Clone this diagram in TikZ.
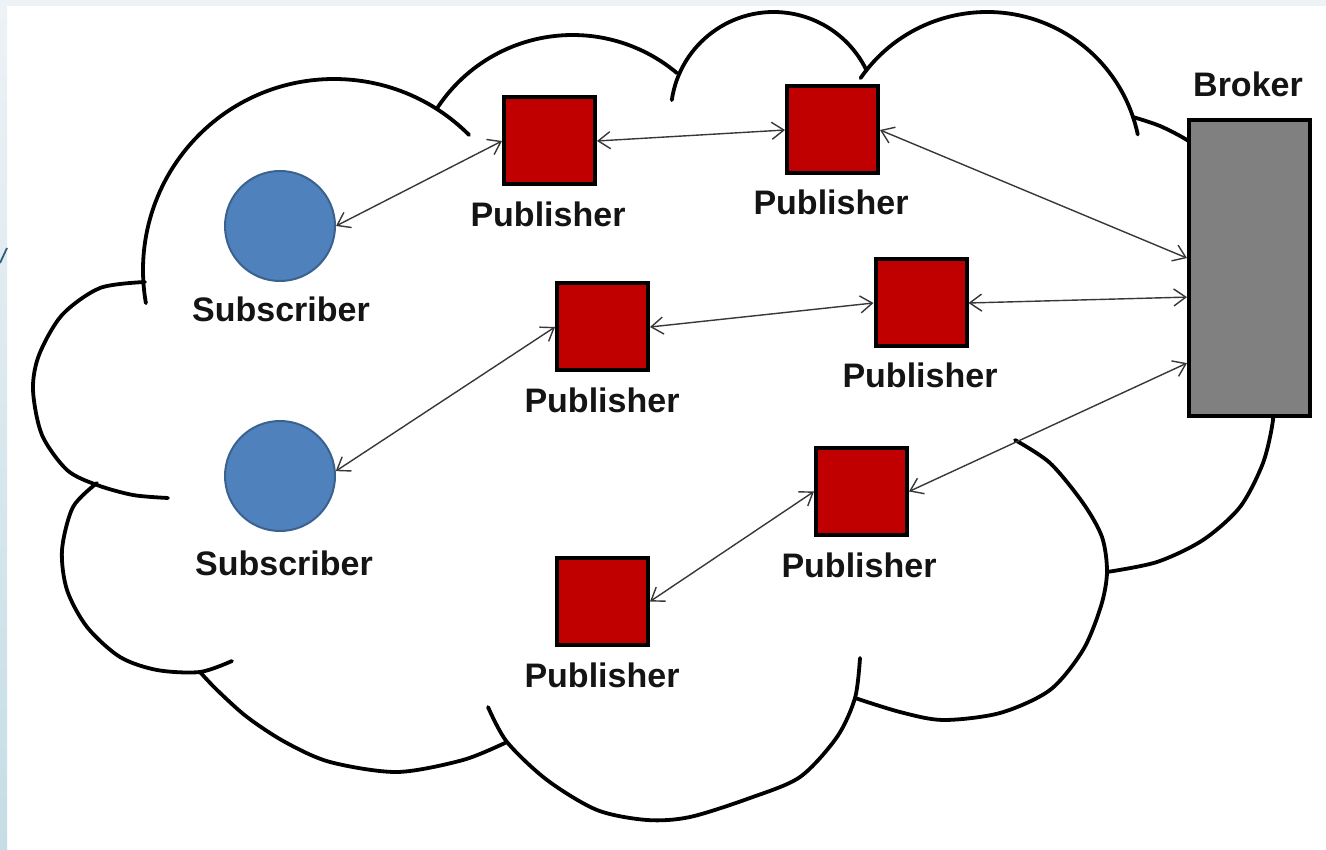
\documentclass[tikz,border=0pt]{standalone}
\usepackage{fontspec}
\setmainfont{Liberation Sans}
\usetikzlibrary{arrows.meta,calc}
\definecolor{pubred}{HTML}{C00000}
\definecolor{subblue}{HTML}{4F81BD}
\definecolor{subedge}{HTML}{3A628F}
\definecolor{brokergray}{HTML}{808080}
\definecolor{linkgray}{HTML}{383838}
\definecolor{stripa}{HTML}{EDF2F6}
\definecolor{stripb}{HTML}{C6DDE5}
\definecolor{diagblue}{HTML}{2E5E80}
\begin{document}
\begin{tikzpicture}[x=1pt,y=-1pt,
  cloudline/.style={line width=3.8pt, draw=black, line cap=round, line join=round},
  pubbox/.style={rectangle, draw=black, line width=4pt, fill=pubred, minimum width=91pt, minimum height=87pt, inner sep=0pt},
  brokerbox/.style={rectangle, draw=black, line width=4pt, fill=brokergray, minimum width=121pt, minimum height=296pt, inner sep=0pt},
  subcirc/.style={circle, draw=subedge, line width=2pt, fill=subblue, minimum size=110pt, inner sep=0pt},
  lbl/.style={font=\fontsize{34}{40}\selectfont\bfseries, anchor=base, inner sep=0pt, text=black!92},
  link/.style={draw=linkgray, line width=1.4pt, {Straight Barb[length=12pt,width=17pt]}-{Straight Barb[length=12pt,width=17pt]}}
]
\useasboundingbox (0,0) rectangle (1326,850);
% background
\fill[white] (0,0) rectangle (1326,850);
\fill[stripa] (0,0) rectangle (1326,6);
\shade[top color=stripa, bottom color=stripb] (0,0) rectangle (7,850);
\draw[diagblue, line width=1.8pt] (0,263) -- (7,248);

% cloud lobes
\draw[cloudline] (334,270) ++(-45:191) arc (-45:-190:191);
\draw[cloudline] (572.6,197) ++(-146.7:162) arc (-146.7:-49.9:162);
\draw[cloudline] (773.7,115) ++(-171.7:103) arc (-171.7:-25.6:103);
\draw[cloudline] (987,166) ++(-145.2:154) arc (-145.2:-11.8:154);
\draw[cloudline] plot[smooth] coordinates {(1133,117) (1160,126) (1187,140) (1215,160) (1240,190)};
\draw[cloudline] plot[smooth] coordinates {(1271,400) (1273,420) (1263,463) (1240,507) (1203,540) (1157,562) (1107,572)};
\draw[cloudline] plot[smooth] coordinates {(1015,440) (1050,463) (1083,503) (1102,537) (1107,572) (1101,606) (1083,650) (1050,690) (1000,713) (943,720) (900,712) (855,698)};
\draw[cloudline] plot[smooth] coordinates {(488,707) (507,742) (547,780) (597,810) (647,820) (690,817) (750,798) (800,777) (837,737) (855,698) (860,658)};
\draw[cloudline] plot[smooth] coordinates {(200,672) (217,690) (247,717) (285,742) (330,762) (397,772) (463,760) (507,742)};
\draw[cloudline] plot[smooth] coordinates {(97,483) (73,507) (62,550) (67,590) (87,627) (120,657) (157,670) (200,672) (232,661)};
\draw[cloudline] plot[smooth] coordinates {(145,282) (100,288) (62,315) (39,355) (33,390) (42,435) (67,470) (97,485) (133,495) (168,498)};

% nodes
\node[brokerbox] (broker) at (1249.5,268) {};
\node[lbl] (brokerl) at (1248,97) {Broker};

\node[subcirc] (sub1) at (280,226) {};
\node[lbl] (sub1l) at (281,322) {Subscriber};
\node[subcirc] (sub2) at (280,476) {};
\node[lbl] (sub2l) at (284,575) {Subscriber};

\node[pubbox] (p1) at (549.5,141) {};
\node[lbl] (p1l) at (548,227) {Publisher};
\node[pubbox] (p2) at (832.5,130) {};
\node[lbl] (p2l) at (831,215) {Publisher};
\node[pubbox] (p3) at (602.5,327) {};
\node[lbl] (p3l) at (602,413) {Publisher};
\node[pubbox] (p4) at (921,303) {};
\node[lbl] (p4l) at (920,388) {Publisher};
\node[pubbox] (p5) at (861.5,491.5) {};
\node[lbl] (p5l) at (859,577) {Publisher};
\node[pubbox] (p6) at (602.5,601.5) {};
\node[lbl] (p6l) at (602,687) {Publisher};

% connectors
\draw[link] (sub1.east) -- (p1.west);
\draw[link] (p1.east) -- (p2.west);
\draw[link] (p2.east) -- ($(broker.north west)!0.467!(broker.south west)$);
\draw[link] (p3.east) -- (p4.west);
\draw[link] (p4.east) -- ($(broker.north west)!0.597!(broker.south west)$);
\draw[link] (sub2.5) -- (p3.west);
\draw[link] (p5.east) -- ($(broker.north west)!0.817!(broker.south west)$);
\draw[link] (p6.east) -- (p5.west);
\end{tikzpicture}
\end{document}
